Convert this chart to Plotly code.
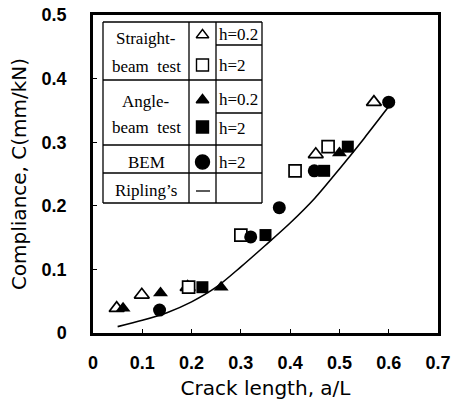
import plotly.graph_objects as go

# ---- data ----
sb_h02_x = [0.048, 0.099, 0.192, 0.452, 0.570]
sb_h02_c = [0.039, 0.060, 0.072, 0.281, 0.363]
sb_h2_x = [0.194, 0.300, 0.410, 0.477]
sb_h2_c = [0.072, 0.154, 0.255, 0.293]
ab_h02_x = [0.061, 0.137, 0.260, 0.500]
ab_h02_c = [0.039, 0.063, 0.072, 0.283]
ab_h2_x = [0.222, 0.350, 0.469, 0.517]
ab_h2_c = [0.072, 0.154, 0.255, 0.293]
bem_x = [0.135, 0.320, 0.378, 0.449, 0.600]
bem_c = [0.036, 0.151, 0.197, 0.255, 0.363]
rip_x = [0.05, 0.10, 0.15, 0.20, 0.25, 0.30, 0.35, 0.40, 0.45, 0.50, 0.55, 0.60]
rip_c = [0.010, 0.020, 0.032, 0.049, 0.072, 0.104, 0.138, 0.173, 0.212, 0.258, 0.306, 0.356]

x_ticks = [0, 0.1, 0.2, 0.3, 0.4, 0.5, 0.6, 0.7]
y_ticks = [0, 0.1, 0.2, 0.3, 0.4, 0.5]

W, H = 455, 400
L, R, T, B = 93, 17, 15, 67
X0, X1, Y0, Y1 = 0, 0.7, 0, 0.5
pw, ph = W - L - R, H - T - B


def dx(px):
    return X0 + (px - L) / pw * (X1 - X0)


def dy(py):
    return Y0 + (H - B - py) / ph * (Y1 - Y0)


fig = go.Figure()

open_line = dict(color="black", width=1.7)
fig.add_trace(go.Scatter(x=rip_x, y=rip_c, mode="lines",
                         line=dict(color="black", width=1.6, shape="spline", smoothing=0.8),
                         showlegend=False))
fig.add_trace(go.Scatter(x=sb_h02_x, y=sb_h02_c, mode="markers",
                         marker=dict(symbol="triangle-up", size=13, color="white", line=open_line),
                         showlegend=False))
fig.add_trace(go.Scatter(x=sb_h2_x, y=sb_h2_c, mode="markers",
                         marker=dict(symbol="square", size=12, color="white", line=open_line),
                         showlegend=False))
fig.add_trace(go.Scatter(x=ab_h02_x, y=ab_h02_c, mode="markers",
                         marker=dict(symbol="triangle-up", size=13, color="black"),
                         showlegend=False))
fig.add_trace(go.Scatter(x=ab_h2_x, y=ab_h2_c, mode="markers",
                         marker=dict(symbol="square", size=12, color="black"),
                         showlegend=False))
fig.add_trace(go.Scatter(x=bem_x, y=bem_c, mode="markers",
                         marker=dict(symbol="circle", size=13, color="black"),
                         showlegend=False))

# ---- legend table ----
cols = [103, 189, 216, 262]
rows = [22, 80, 145, 173, 203]
shapes = []
lw = dict(color="black", width=1.3)
for cx in cols:
    shapes.append(dict(type="line", x0=dx(cx), x1=dx(cx), y0=dy(rows[0]), y1=dy(rows[-1]), line=lw))
for ry in rows:
    shapes.append(dict(type="line", x0=dx(cols[0]), x1=dx(cols[-1]), y0=dy(ry), y1=dy(ry), line=lw))
for ry in [45, 113]:
    shapes.append(dict(type="line", x0=dx(cols[2]), x1=dx(cols[3]), y0=dy(ry), y1=dy(ry), line=lw))

serif = dict(family="Liberation Serif", size=17, color="black")
ann = []
cx_lab = (cols[0] + cols[1]) / 2
for txt, py in [("Straight-", 38), ("beam  test", 66), ("Angle-", 101), ("beam  test", 127), ("BEM", 162), ("Ripling’s", 190)]:
    ann.append(dict(x=dx(cx_lab), y=dy(py), text=txt, showarrow=False, font=serif,
                    xanchor="center", yanchor="middle"))
for txt, py in [("h=0.2", 34), ("h=2", 65), ("h=0.2", 99), ("h=2", 128), ("h=2", 162)]:
    ann.append(dict(x=dx(217), y=dy(py), text=txt, showarrow=False, font=serif,
                    xanchor="left", yanchor="middle"))

sx = dx((cols[1] + cols[2]) / 2)
leg_syms = [
    ("triangle-up", 35, "white", 11),
    ("square", 65, "white", 12),
    ("triangle-up", 100, "black", 11),
    ("square", 127, "black", 12),
    ("circle", 162, "black", 14),
]
for sym, py, col, s in leg_syms:
    fig.add_trace(go.Scatter(x=[sx], y=[dy(py)], mode="markers",
                             marker=dict(symbol=sym, size=s, color=col, line=dict(color="black", width=1.4)),
                             showlegend=False, hoverinfo="skip"))
shapes.append(dict(type="line", x0=dx(196), x1=dx(210), y0=dy(191), y1=dy(191),
                   line=dict(color="black", width=1.3)))

tick_font = dict(family="Liberation Sans", size=18, color="black", weight="bold")
title_font = dict(family="DejaVu Sans", size=20, color="black")
fig.update_layout(
    width=W, height=H,
    margin=dict(l=L, r=R, t=T, b=B, autoexpand=False),
    paper_bgcolor="white", plot_bgcolor="white",
    shapes=shapes, annotations=ann,
    showlegend=False,
)
fig.update_xaxes(
    range=[X0, X1], tickvals=x_ticks, ticktext=[f"{v:g}" for v in x_ticks],
    showgrid=False, zeroline=False, showline=True, linecolor="black", linewidth=2.5, mirror=True,
    ticks="inside", ticklen=4, tickcolor="black", tickfont=tick_font, ticklabelstandoff=12,
    automargin=False,
    title=dict(text="Crack length, a/L", font=title_font, standoff=12),
)
fig.update_yaxes(
    range=[Y0, Y1], tickvals=y_ticks, ticktext=[f"{v:g}" for v in y_ticks],
    showgrid=False, zeroline=False, showline=True, linecolor="black", linewidth=2.5, mirror=True,
    ticks="inside", ticklen=4, tickcolor="black", tickfont=tick_font, ticklabelstandoff=20,
    automargin=False,
    title=dict(text="Compliance, C(mm/kN)", font=title_font, standoff=10),
)

fig.write_html("out.html")
